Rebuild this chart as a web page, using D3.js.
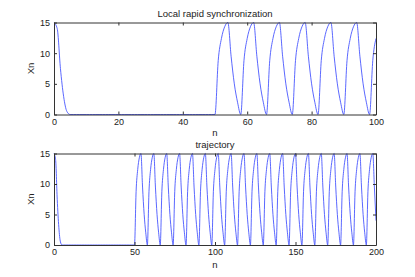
<!DOCTYPE html>
<html>
<head>
<meta charset="utf-8">
<script src="https://cdn.jsdelivr.net/npm/d3@7"></script>
<style>
  body { margin: 0; background: #fff; }
  text { font-family: "Liberation Sans", Arial, sans-serif; fill: #222; }
</style>
</head>
<body>
<div id="chart-area"></div>
<script>
// x_n, n = 0..200
var xn = [
  15, 14, 7.5, 2.9, 0.5,
  0, 0, 0, 0, 0, 0, 0, 0, 0, 0,
  0, 0, 0, 0, 0, 0, 0, 0, 0, 0,
  0, 0, 0, 0, 0, 0, 0, 0, 0, 0,
  0, 0, 0, 0, 0, 0, 0, 0, 0, 0,
  0, 0, 0, 0, 0, 0,
  8.8, 12.4, 14.3, 15, 9.5, 5, 2, 0,
  8.8, 12.4, 14.3, 15, 9.5, 5, 2, 0,
  8.8, 12.4, 14.3, 15, 9.5, 5, 2, 0,
  8.8, 12.4, 14.3, 15, 9.5, 5, 2, 0,
  8.8, 12.4, 14.3, 15, 9.5, 5, 2, 0,
  8.8, 12.4, 14.3, 15, 9.5, 5, 2, 0,
  8.8, 12.4, 14.3, 15, 9.5, 5, 2, 0,
  8.8, 12.4, 14.3, 15, 9.5, 5, 2, 0,
  8.8, 12.4, 14.3, 15, 9.5, 5, 2, 0,
  8.8, 12.4, 14.3, 15, 9.5, 5, 2, 0,
  8.8, 12.4, 14.3, 15, 9.5, 5, 2, 0,
  8.8, 12.4, 14.3, 15, 9.5, 5, 2, 0,
  8.8, 12.4, 14.3, 15, 9.5, 5, 2, 0,
  8.8, 12.4, 14.3, 15, 9.5, 5, 2, 0,
  8.8, 12.4, 14.3, 15, 9.5, 5, 2, 0,
  8.8, 12.4, 14.3, 15, 9.5, 5, 2, 0,
  8.8, 12.4, 14.3, 15, 9.5, 5, 2, 0,
  8.8, 12.4, 14.3, 15, 9.5, 5, 2, 0,
  8.8, 12.4, 14.3, 15, 9.5, 4
];

var yTicks = [0, 5, 10, 15];
var topXTicks = [0, 20, 40, 60, 80, 100];
var botXTicks = [0, 50, 100, 150, 200];

var titles = ["Local rapid synchronization", "trajectory"];
var xLabel = "n";
var yLabel = "Xn";

var W = 415, H = 277;
var svg = d3.select("#chart-area")
    .append("svg")
    .attr("width", W)
    .attr("height", H);

var panels = [
    { title: titles[0], nMax: 100, ticks: topXTicks, top: 22.5, bottom: 114.5, titleY: 17, labelY: 136 },
    { title: titles[1], nMax: 200, ticks: botXTicks, top: 153.5, bottom: 245, titleY: 147.5, labelY: 268 }
];

var left = 54, right = 376;

panels.forEach(function (p) {
    var data = xn.slice(0, p.nMax + 1);

    var x = d3.scaleLinear().domain([0, p.nMax]).range([left, right]);
    var y = d3.scaleLinear().domain([0, 15]).range([p.bottom, p.top]);

    var g = svg.append("g");

    // line
    g.append("path")
        .datum(data)
        .attr("fill", "none")
        .attr("stroke", "#3d4dff")
        .attr("stroke-width", 0.85)
        .attr("d", d3.line()
            .curve(d3.curveMonotoneX)
            .x(function (d, i) { return x(i); })
            .y(function (d) { return y(d); }));

    // axes, ticks inside like matlab
    var bx = g.append("g")
        .attr("transform", "translate(0," + p.bottom + ")")
        .call(d3.axisBottom(x).tickValues(p.ticks).tickSizeInner(-3).tickSizeOuter(0).tickPadding(4));
    var tx = g.append("g")
        .attr("transform", "translate(0," + p.top + ")")
        .call(d3.axisTop(x).tickValues(p.ticks).tickSizeInner(-3).tickSizeOuter(0).tickFormat(""));
    var ly = g.append("g")
        .attr("transform", "translate(" + left + ",0)")
        .call(d3.axisLeft(y).tickValues(yTicks).tickSizeInner(-3).tickSizeOuter(0).tickPadding(4));
    var ry = g.append("g")
        .attr("transform", "translate(" + right + ",0)")
        .call(d3.axisRight(y).tickValues(yTicks).tickSizeInner(-3).tickSizeOuter(0).tickFormat(""));

    [bx, tx, ly, ry].forEach(function (a) {
        a.selectAll("path, line").attr("stroke", "#333");
        a.selectAll("text")
            .attr("font-size", "9px")
            .attr("fill", "#222")
            .style("font-family", "'Liberation Sans', Arial, sans-serif");
    });

    // title
    g.append("text")
        .attr("x", (left + right) / 2)
        .attr("y", p.titleY)
        .attr("font-size", "9.5px")
        .attr("text-anchor", "middle")
        .text(p.title);

    // x label
    g.append("text")
        .attr("x", (left + right) / 2)
        .attr("y", p.labelY)
        .attr("font-size", "9.5px")
        .attr("text-anchor", "middle")
        .text(xLabel);

    // y label
    g.append("text")
        .attr("x", -(p.top + p.bottom) / 2)
        .attr("y", 34)
        .attr("font-size", "9.5px")
        .attr("text-anchor", "middle")
        .attr("transform", "rotate(-90)")
        .text(yLabel);
});
</script>
</body>
</html>
